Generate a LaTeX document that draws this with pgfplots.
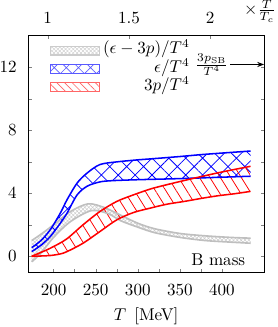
\documentclass[border=0pt]{standalone}
\usepackage{pgfplots}
\pgfplotsset{compat=1.18}
\usepgfplotslibrary{fillbetween}
\usetikzlibrary{patterns.meta,arrows.meta}
\begin{document}
\begin{tikzpicture}
\begin{axis}[name=main, scale only axis, width=138.2pt, height=138.6pt,
 xmin=170, xmax=450, ymin=-1, ymax=14,
 xtick={200,250,300,350,400}, minor xtick={225,275,325,375},
 ytick={0,4,8,12}, minor ytick={2,6,10},
 xtick pos=left, tick align=inside, major tick length=2pt, minor tick length=2pt,
 xticklabel style={yshift=-3.8pt}, yticklabel style={xshift=-3.3pt},
 xlabel={$T$\hspace{4.7pt}[MeV]}, clip=false,
 legend image code/.code={\draw[#1] (0pt,-2.6pt) rectangle (28.9pt,2.6pt);},
 legend style={draw=none, fill=none, at={(axis cs:195,13.66)}, anchor=north west,
   inner sep=0pt, row sep=0pt, column sep=1.75pt,
   nodes={inner sep=0pt, text height=7.3pt, text depth=3.5pt}},
 legend cell align=right]
\addlegendimage{draw=gray!40, line width=0.6pt, pattern={Hatch[angle=45,distance=1.6pt,line width=0.3pt]}, pattern color=gray!35}
\addlegendimage{draw=blue!65, line width=0.6pt, pattern={Hatch[angle=45,distance=5pt,line width=0.4pt]}, pattern color=blue!65}
\addlegendimage{draw=red!60, line width=0.6pt, pattern={Lines[angle=-45,distance=3.2pt,line width=0.4pt]}, pattern color=red!60}
\legend{$(\epsilon-3p)/T^4$, $\epsilon/T^4$, $3p/T^4$}
% interaction measure band
\addplot[name path=Ihi, draw=gray!50, line width=0.95pt, smooth, forget plot] coordinates {
(174,1.0) (185,1.4) (200,2.0) (220,2.84) (241,3.33) (260,3.1) (280,2.6) (300,2.1) (320,1.75) (350,1.45) (380,1.3) (410,1.2) (434,1.15)};
\addplot[name path=Ilo, draw=gray!50, line width=0.95pt, smooth, forget plot] coordinates {
(174,-0.35) (185,0.2) (200,1.2) (220,2.2) (245,2.9) (265,2.7) (280,2.25) (300,1.85) (320,1.5) (350,1.2) (380,1.0) (410,0.9) (434,0.83)};
\addplot[draw=none, pattern={Hatch[angle=45,distance=1.6pt,line width=0.3pt]}, pattern color=gray!40, forget plot] fill between[of=Ihi and Ilo];
% energy density band
\addplot[name path=Ehi, draw=blue, line width=0.9pt, smooth, forget plot] coordinates {
(174,0.55) (185,1.0) (196,1.68) (208,2.74) (216,3.59) (228,4.65) (240,5.29) (255,5.82) (275,5.99) (300,6.12) (315,6.18) (350,6.33) (375,6.45) (400,6.55) (434,6.68)};
\addplot[name path=Elo, draw=blue, line width=0.9pt, smooth, forget plot] coordinates {
(174,0.3) (185,0.7) (196,1.25) (208,2.1) (216,2.74) (228,3.9) (240,4.45) (255,4.72) (270,4.8) (300,4.86) (350,4.93) (400,5.02) (434,5.08)};
\addplot[draw=none, pattern={Hatch[angle=45,distance=7pt,line width=0.45pt]}, pattern color=blue, forget plot] fill between[of=Ehi and Elo];
% pressure band
\addplot[name path=Phi, draw=red, line width=0.9pt, smooth, forget plot] coordinates {
(174,0.0) (185,0.25) (196,0.51) (215,1.08) (235,2.0) (255,2.84) (275,3.48) (295,3.9) (315,4.27) (335,4.55) (368,4.97) (400,5.35) (434,5.71)};
\addplot[name path=Plo, draw=red, line width=0.9pt, smooth, forget plot] coordinates {
(174,0.0) (185,0.02) (196,0.05) (208,0.15) (216,0.3) (235,0.83) (255,1.57) (275,2.31) (295,2.78) (315,3.06) (335,3.31) (355,3.48) (375,3.67) (395,3.84) (415,3.97) (434,4.12)};
\addplot[draw=none, pattern={Lines[angle=-58,distance=5.2pt,line width=0.45pt]}, pattern color=red, forget plot] fill between[of=Phi and Plo];
% annotations
\node[anchor=base east, inner sep=0pt] at (axis cs:428,-0.6) {B mass};
\draw[-{Stealth[length=4pt,width=3pt]}] (axis cs:410,12.17) -- (axis cs:450,12.17);
\node[anchor=east, inner sep=1pt] at (axis cs:410,12.17) {$\frac{3p_{\mathrm{SB}}}{T^4}$};
\node[anchor=west, inner sep=0pt] at (axis cs:426,15.55) {$\times\frac{T}{T_c}$};
\end{axis}
\begin{axis}[scale only axis, width=138.2pt, height=138.6pt,
 xmin=0.880829, xmax=2.331606, ymin=0, ymax=1,
 xtick={1,1.5,2}, ytick=\empty, xtick pos=right, xticklabel pos=right,
 tick align=inside, major tick length=2pt,
 xticklabel style={yshift=3.7pt}]
\end{axis}
\pgfresetboundingbox
\useasboundingbox ([shift={(-16.6pt,-32.2pt)}]main.south west) rectangle ([shift={(8.1pt,20.9pt)}]main.north east);
\end{tikzpicture}
\end{document}
